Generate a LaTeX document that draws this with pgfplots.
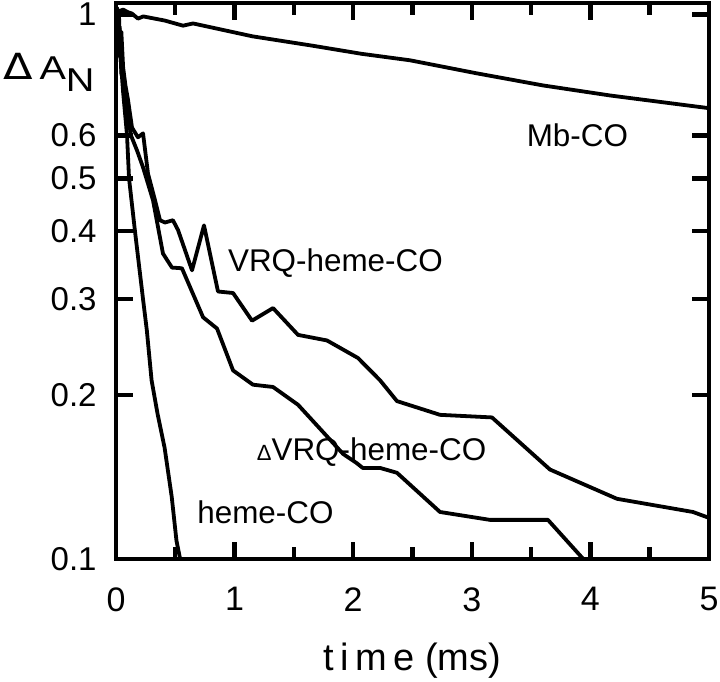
\documentclass[border=0pt]{standalone}
\usepackage{fontspec}
\setmainfont{Liberation Sans}
\newfontfamily\dejavu{DejaVu Sans}
\usepackage{pgfplots}
\pgfplotsset{compat=1.18}
\tikzset{curve/.style={black, line width=1.9bp, line join=round, mark=none}}
\begin{document}
\begin{tikzpicture}
\begin{axis}[
  name=ax,
  scale only axis,
  width=296.5bp, height=278bp,
  xmin=0, xmax=5, ymin=0.1, ymax=1.05,
  ymode=log,
  xtick={0,1,2,3,4,5},
  minor xtick={0.5,1.5,2.5,3.5,4.5},
  ytick={0.1,0.2,0.3,0.4,0.5,0.6,1},
  yticklabels={0.1,0.2,0.3,0.4,0.5,0.6,1},
  yminorticks=false,
  tick align=inside,
  major tick length=8.5bp, minor tick length=6bp,
  axis line style={line width=2.4bp, black},
  every tick/.style={black, line width=2.2bp},
  xtick style={black, line width=2.2bp},
  ytick style={black, line width=2.2bp},
  /pgf/number format/assume math mode=true,
  xticklabel style={font=\fontsize{17bp}{19bp}\selectfont, inner sep=0pt, yshift=-14bp},
  yticklabel style={font=\fontsize{16.5bp}{18bp}\selectfont, inner sep=0pt, xshift=-9.5bp},
]
% Mb-CO
\addplot[curve] coordinates {
(0,0.96) (0.01,1.02) (0.03,1.015) (0.06,1.021) (0.10,1.01) (0.135,1.004)
(0.185,0.983) (0.23,0.992) (0.41,0.975) (0.565,0.954) (0.65,0.963)
(1.15,0.912) (1.65,0.877) (2.07,0.847) (2.48,0.824) (3.04,0.780)
(3.60,0.741) (4.17,0.710) (5.0,0.673)
};
% VRQ-heme-CO
\addplot[curve] coordinates {
(0,0.92) (0.008,1.03) (0.016,0.88) (0.025,1.0) (0.035,0.86) (0.045,0.93)
(0.06,0.80) (0.08,0.74) (0.10,0.70) (0.135,0.620) (0.185,0.595) (0.228,0.605)
(0.27,0.51) (0.329,0.456) (0.371,0.419) (0.413,0.415) (0.48,0.419) (0.523,0.402)
(0.641,0.339) (0.742,0.410) (0.86,0.310) (0.987,0.308) (1.147,0.274)
(1.324,0.289) (1.535,0.258) (1.779,0.252) (2.04,0.234) (2.226,0.213)
(2.369,0.195) (2.732,0.184) (3.17,0.182) (3.659,0.146) (4.224,0.129)
(4.865,0.122) (5.0,0.119)
};
% Delta VRQ-heme-CO
\addplot[curve] coordinates {
(0,0.98) (0.006,0.86) (0.014,1.02) (0.022,0.84) (0.03,0.95) (0.045,0.78)
(0.06,0.76) (0.093,0.67) (0.126,0.60) (0.177,0.563) (0.228,0.524)
(0.312,0.456) (0.396,0.364) (0.472,0.343) (0.556,0.342) (0.734,0.278)
(0.852,0.265) (0.987,0.222) (1.155,0.209) (1.324,0.207) (1.535,0.192)
(1.779,0.168) (1.914,0.156) (2.03,0.150) (2.08,0.147) (2.226,0.147)
(2.369,0.144) (2.732,0.122) (3.153,0.118) (3.642,0.118) (3.94,0.1)
};
% heme-CO
\addplot[curve] coordinates {
(0,1.0) (0.01,0.93) (0.02,0.99) (0.034,0.86) (0.06,0.72) (0.093,0.60)
(0.11,0.50) (0.16,0.40) (0.228,0.30) (0.26,0.263) (0.30,0.213)
(0.35,0.185) (0.41,0.160) (0.47,0.130) (0.51,0.108) (0.545,0.099)
};
\node[font=\fontsize{15.7bp}{18bp}\selectfont] at (axis cs:3.89,0.600) {Mb-CO};
\node[font=\fontsize{15.7bp}{18bp}\selectfont] at (axis cs:1.85,0.349) {VRQ-heme-CO};
\node[font=\fontsize{15.7bp}{18bp}\selectfont] at (axis cs:2.155,0.157) {{\fontsize{11bp}{12bp}\selectfont Δ}VRQ-heme-CO};
\node[font=\fontsize{15.7bp}{18bp}\selectfont] at (axis cs:1.26,0.122) {heme-CO};
\end{axis}
\node[anchor=base west, inner sep=0pt, font=\fontsize{16.5bp}{18bp}\selectfont]
  at ([xshift=-56.5bp,yshift=-38.5bp]ax.north west) {\scalebox{1.2}[1]{{\dejavu\fontsize{18bp}{19bp}\selectfont Δ}\,A\raisebox{-6bp}{N}}};
\node[anchor=base, inner sep=0pt, font=\fontsize{19bp}{22bp}\selectfont]
  at ([yshift=-55.5bp]ax.south) {t\hspace{0.17em}i\hspace{0.17em}m\hspace{0.17em}e (ms)};
\pgfresetboundingbox
\path[use as bounding box] ([xshift=-58bp,yshift=-61.5bp]ax.south west) rectangle ([xshift=5.5bp,yshift=1.5bp]ax.north east);
\end{tikzpicture}
\end{document}
